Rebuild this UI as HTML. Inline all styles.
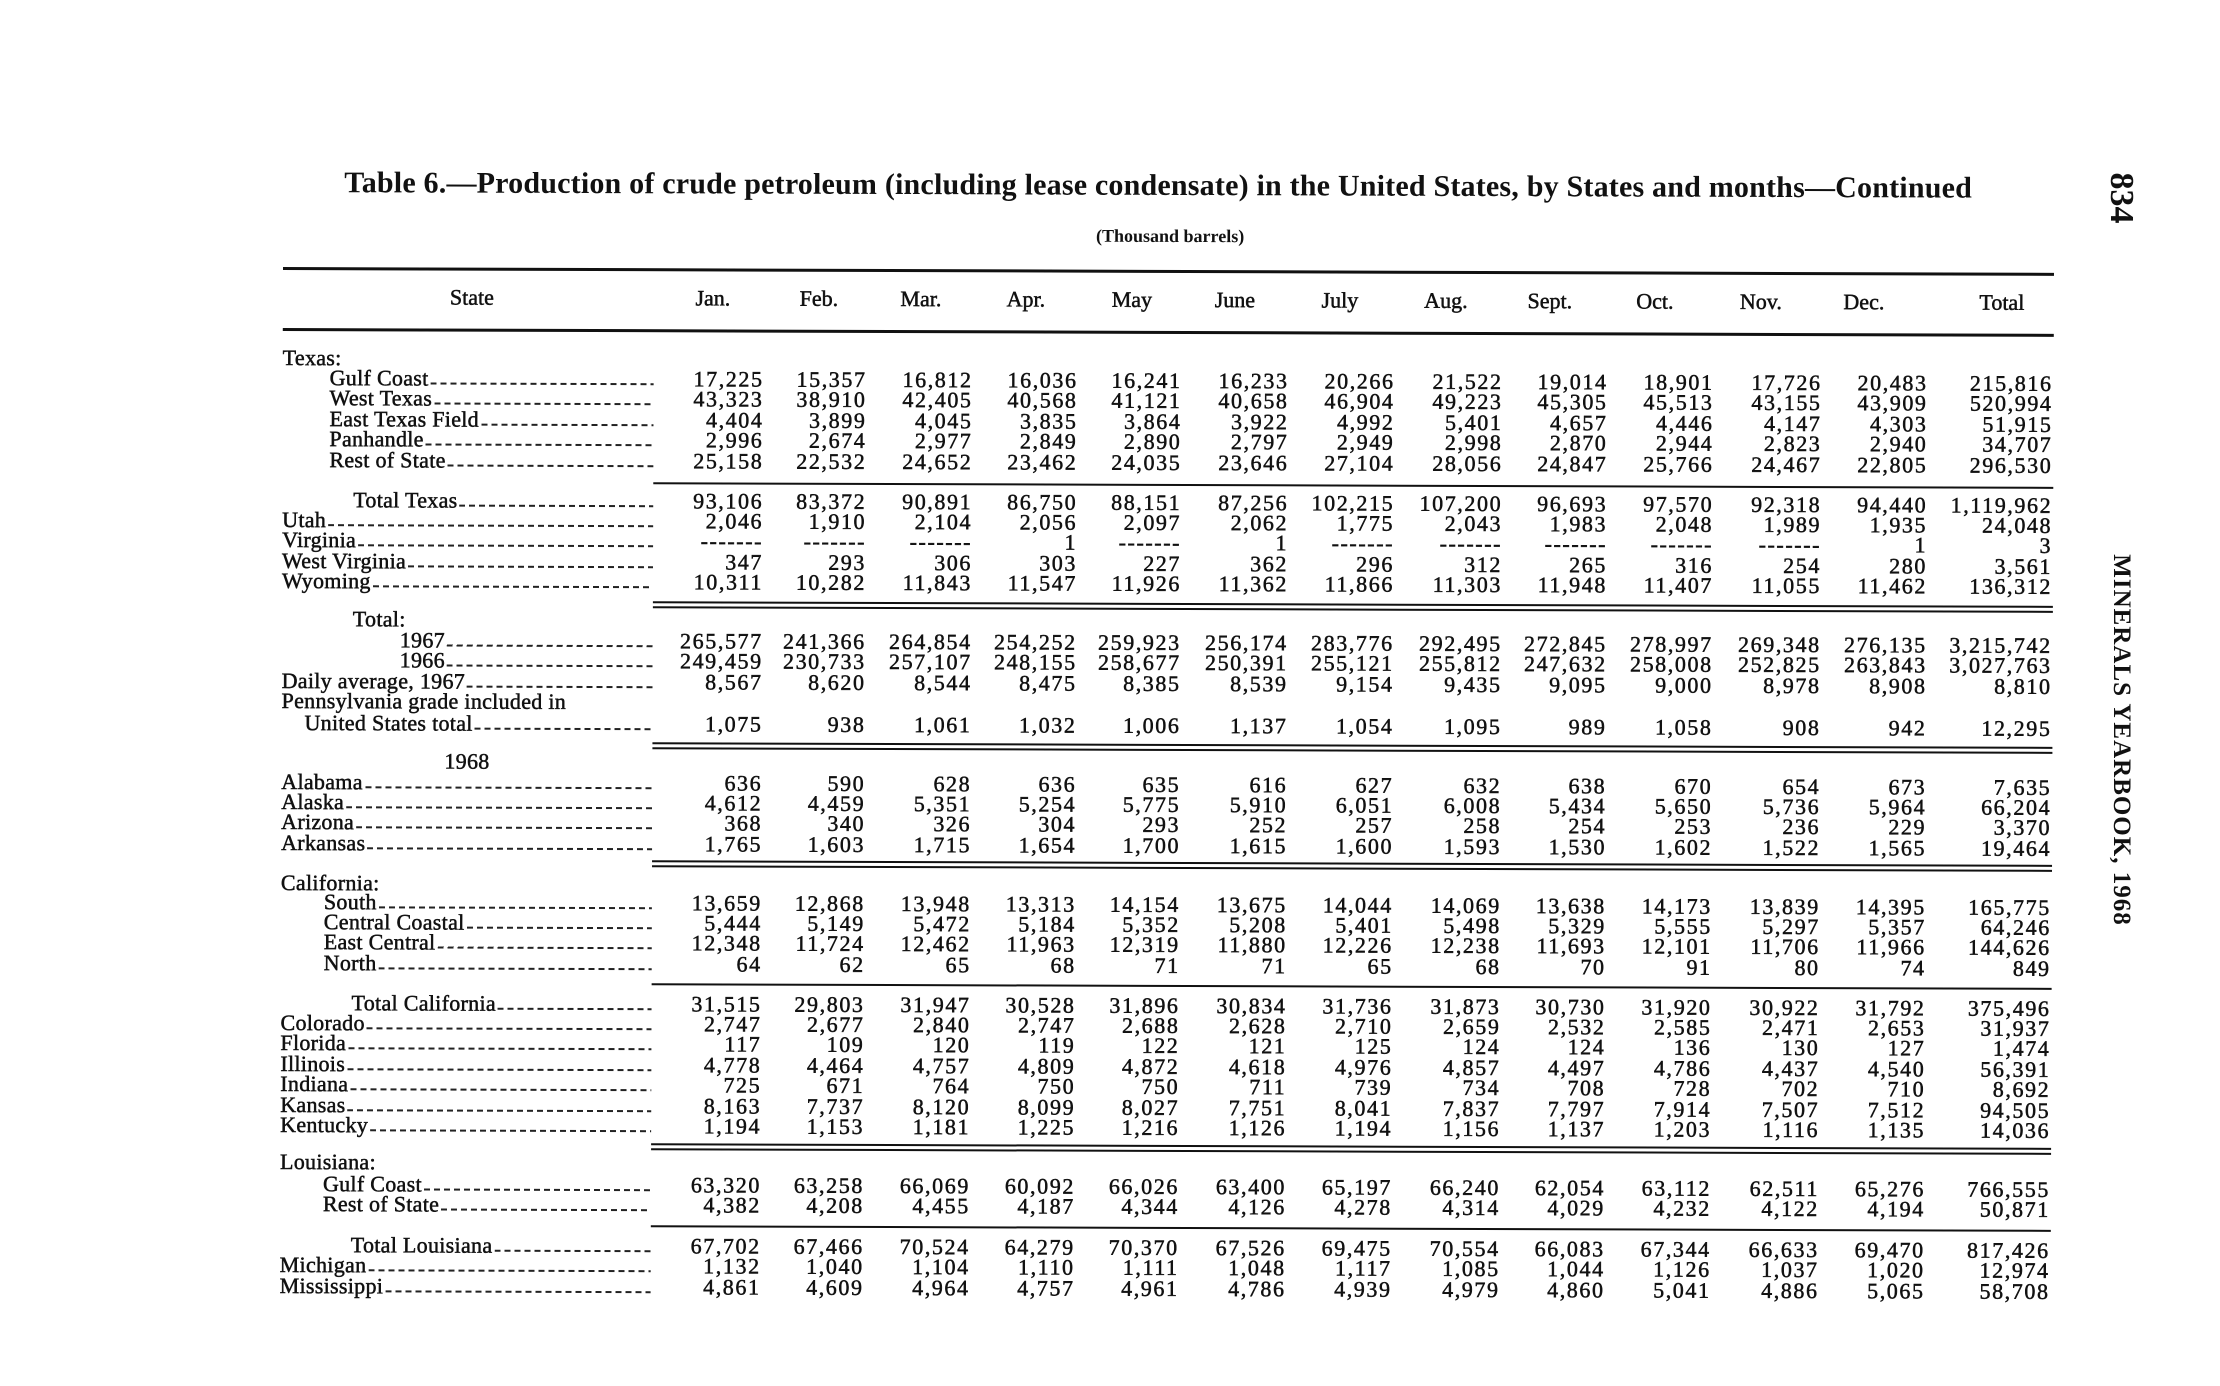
<!DOCTYPE html>
<html><head><meta charset="utf-8">
<style>
html,body{margin:0;padding:0;background:#fff;}
body{width:2220px;height:1380px;overflow:hidden;position:relative;font-family:"Liberation Serif",serif;color:#111;}
#g{position:absolute;left:0;top:0;width:2220px;height:1380px;transform:rotate(0.19deg);transform-origin:283px 268px;}
.t{position:absolute;white-space:nowrap;font-weight:bold;}
.r{position:absolute;left:0;width:2220px;height:24px;line-height:24px;font-size:22px;font-weight:normal;letter-spacing:1.6px;-webkit-text-stroke:0.5px #111;}
.r span{position:absolute;top:0;width:130px;text-align:right;white-space:nowrap;}
.r span.l{display:flex;text-align:left;width:auto;right:1566px;letter-spacing:0.3px;}
.r span.l::after{content:"";flex:1;height:2px;align-self:flex-end;margin:0 0 6px 2px;background:repeating-linear-gradient(90deg,#222 0 6px,transparent 6px 10px);}
.r span.h{text-align:left;width:auto;letter-spacing:0.3px;}
.r span:nth-child(2){left:634px}
.r span:nth-child(3){left:737px}
.r span:nth-child(4){left:843px}
.r span:nth-child(5){left:948px}
.r span:nth-child(6){left:1052px}
.r span:nth-child(7){left:1159px}
.r span:nth-child(8){left:1265px}
.r span:nth-child(9){left:1373px}
.r span:nth-child(10){left:1478px}
.r span:nth-child(11){left:1584px}
.r span:nth-child(12){left:1692px}
.r span:nth-child(13){left:1798px}
.r span:nth-child(14){left:1923px}
.hl{position:absolute;background:#111;}
.hd{position:absolute;top:284px;font-size:22px;transform:translateX(-50%);white-space:nowrap;-webkit-text-stroke:0.5px #111;}
</style></head><body>
<div id="g">
<div class="t" style="left:344px;top:166px;font-size:30px;letter-spacing:0.2px;">Table 6.—Production of crude petroleum (including lease condensate) in the United States, by States and months—Continued</div>
<div class="t" style="left:1170px;top:223px;font-size:18px;transform:translateX(-50%);">(Thousand barrels)</div>

<div class="hl" style="left:283px;top:267px;width:1771px;height:3px;"></div>
<div class="hd" style="left:472px">State</div>
<div class="hd" style="left:713px">Jan.</div>
<div class="hd" style="left:819px">Feb.</div>
<div class="hd" style="left:921px">Mar.</div>
<div class="hd" style="left:1026px">Apr.</div>
<div class="hd" style="left:1132px">May</div>
<div class="hd" style="left:1235px">June</div>
<div class="hd" style="left:1340px">July</div>
<div class="hd" style="left:1446px">Aug.</div>
<div class="hd" style="left:1550px">Sept.</div>
<div class="hd" style="left:1655px">Oct.</div>
<div class="hd" style="left:1761px">Nov.</div>
<div class="hd" style="left:1864px">Dec.</div>
<div class="hd" style="left:2002px">Total</div>
<div class="hl" style="left:283px;top:328px;width:1771px;height:3px;"></div>

<div class="hl" style="left:654px;top:481px;width:1400px;height:2px;"></div>
<div class="hl" style="left:654px;top:600px;width:1400px;height:2px;"></div>
<div class="hl" style="left:654px;top:605px;width:1400px;height:2px;"></div>
<div class="hl" style="left:654px;top:741px;width:1400px;height:2px;"></div>
<div class="hl" style="left:654px;top:746px;width:1400px;height:2px;"></div>
<div class="hl" style="left:654px;top:859px;width:1400px;height:2px;"></div>
<div class="hl" style="left:654px;top:864px;width:1400px;height:2px;"></div>
<div class="hl" style="left:654px;top:982px;width:1400px;height:2px;"></div>
<div class="hl" style="left:654px;top:1142px;width:1400px;height:2px;"></div>
<div class="hl" style="left:654px;top:1147px;width:1400px;height:2px;"></div>
<div class="hl" style="left:654px;top:1224px;width:1400px;height:2px;"></div>

<div class="r" style="top:346px"><span class="h" style="left:283px">Texas:</span></div>
<div class="r" style="top:366px"><span class="l" style="left:330px">Gulf Coast</span><span>17,225</span><span>15,357</span><span>16,812</span><span>16,036</span><span>16,241</span><span>16,233</span><span>20,266</span><span>21,522</span><span>19,014</span><span>18,901</span><span>17,726</span><span>20,483</span><span>215,816</span></div>
<div class="r" style="top:386px"><span class="l" style="left:330px">West Texas</span><span>43,323</span><span>38,910</span><span>42,405</span><span>40,568</span><span>41,121</span><span>40,658</span><span>46,904</span><span>49,223</span><span>45,305</span><span>45,513</span><span>43,155</span><span>43,909</span><span>520,994</span></div>
<div class="r" style="top:407px"><span class="l" style="left:330px">East Texas Field</span><span>4,404</span><span>3,899</span><span>4,045</span><span>3,835</span><span>3,864</span><span>3,922</span><span>4,992</span><span>5,401</span><span>4,657</span><span>4,446</span><span>4,147</span><span>4,303</span><span>51,915</span></div>
<div class="r" style="top:427px"><span class="l" style="left:330px">Panhandle</span><span>2,996</span><span>2,674</span><span>2,977</span><span>2,849</span><span>2,890</span><span>2,797</span><span>2,949</span><span>2,998</span><span>2,870</span><span>2,944</span><span>2,823</span><span>2,940</span><span>34,707</span></div>
<div class="r" style="top:448px"><span class="l" style="left:330px">Rest of State</span><span>25,158</span><span>22,532</span><span>24,652</span><span>23,462</span><span>24,035</span><span>23,646</span><span>27,104</span><span>28,056</span><span>24,847</span><span>25,766</span><span>24,467</span><span>22,805</span><span>296,530</span></div>
<div class="r" style="top:488px"><span class="l" style="left:354px">Total Texas</span><span>93,106</span><span>83,372</span><span>90,891</span><span>86,750</span><span>88,151</span><span>87,256</span><span>102,215</span><span>107,200</span><span>96,693</span><span>97,570</span><span>92,318</span><span>94,440</span><span>1,119,962</span></div>
<div class="r" style="top:508px"><span class="l" style="left:283px">Utah</span><span>2,046</span><span>1,910</span><span>2,104</span><span>2,056</span><span>2,097</span><span>2,062</span><span>1,775</span><span>2,043</span><span>1,983</span><span>2,048</span><span>1,989</span><span>1,935</span><span>24,048</span></div>
<div class="r" style="top:528px"><span class="l" style="left:283px">Virginia</span><span>-------</span><span>-------</span><span>-------</span><span>1</span><span>-------</span><span>1</span><span>-------</span><span>-------</span><span>-------</span><span>-------</span><span>-------</span><span>1</span><span>3</span></div>
<div class="r" style="top:549px"><span class="l" style="left:283px">West Virginia</span><span>347</span><span>293</span><span>306</span><span>303</span><span>227</span><span>362</span><span>296</span><span>312</span><span>265</span><span>316</span><span>254</span><span>280</span><span>3,561</span></div>
<div class="r" style="top:569px"><span class="l" style="left:283px">Wyoming</span><span>10,311</span><span>10,282</span><span>11,843</span><span>11,547</span><span>11,926</span><span>11,362</span><span>11,866</span><span>11,303</span><span>11,948</span><span>11,407</span><span>11,055</span><span>11,462</span><span>136,312</span></div>
<div class="r" style="top:607px"><span class="h" style="left:354px">Total:</span></div>
<div class="r" style="top:628px"><span class="l" style="left:401px">1967</span><span>265,577</span><span>241,366</span><span>264,854</span><span>254,252</span><span>259,923</span><span>256,174</span><span>283,776</span><span>292,495</span><span>272,845</span><span>278,997</span><span>269,348</span><span>276,135</span><span>3,215,742</span></div>
<div class="r" style="top:648px"><span class="l" style="left:401px">1966</span><span>249,459</span><span>230,733</span><span>257,107</span><span>248,155</span><span>258,677</span><span>250,391</span><span>255,121</span><span>255,812</span><span>247,632</span><span>258,008</span><span>252,825</span><span>263,843</span><span>3,027,763</span></div>
<div class="r" style="top:669px"><span class="l" style="left:283px">Daily average, 1967</span><span>8,567</span><span>8,620</span><span>8,544</span><span>8,475</span><span>8,385</span><span>8,539</span><span>9,154</span><span>9,435</span><span>9,095</span><span>9,000</span><span>8,978</span><span>8,908</span><span>8,810</span></div>
<div class="r" style="top:689px"><span class="h" style="left:283px">Pennsylvania grade included in</span></div>
<div class="r" style="top:711px"><span class="l" style="left:306px">United States total</span><span>1,075</span><span>938</span><span>1,061</span><span>1,032</span><span>1,006</span><span>1,137</span><span>1,054</span><span>1,095</span><span>989</span><span>1,058</span><span>908</span><span>942</span><span>12,295</span></div>
<div class="r" style="top:749px"><span class="h" style="left:446px">1968</span></div>
<div class="r" style="top:770px"><span class="l" style="left:283px">Alabama</span><span>636</span><span>590</span><span>628</span><span>636</span><span>635</span><span>616</span><span>627</span><span>632</span><span>638</span><span>670</span><span>654</span><span>673</span><span>7,635</span></div>
<div class="r" style="top:790px"><span class="l" style="left:283px">Alaska</span><span>4,612</span><span>4,459</span><span>5,351</span><span>5,254</span><span>5,775</span><span>5,910</span><span>6,051</span><span>6,008</span><span>5,434</span><span>5,650</span><span>5,736</span><span>5,964</span><span>66,204</span></div>
<div class="r" style="top:810px"><span class="l" style="left:283px">Arizona</span><span>368</span><span>340</span><span>326</span><span>304</span><span>293</span><span>252</span><span>257</span><span>258</span><span>254</span><span>253</span><span>236</span><span>229</span><span>3,370</span></div>
<div class="r" style="top:831px"><span class="l" style="left:283px">Arkansas</span><span>1,765</span><span>1,603</span><span>1,715</span><span>1,654</span><span>1,700</span><span>1,615</span><span>1,600</span><span>1,593</span><span>1,530</span><span>1,602</span><span>1,522</span><span>1,565</span><span>19,464</span></div>
<div class="r" style="top:871px"><span class="h" style="left:283px">California:</span></div>
<div class="r" style="top:890px"><span class="l" style="left:326px">South</span><span>13,659</span><span>12,868</span><span>13,948</span><span>13,313</span><span>14,154</span><span>13,675</span><span>14,044</span><span>14,069</span><span>13,638</span><span>14,173</span><span>13,839</span><span>14,395</span><span>165,775</span></div>
<div class="r" style="top:910px"><span class="l" style="left:326px">Central Coastal</span><span>5,444</span><span>5,149</span><span>5,472</span><span>5,184</span><span>5,352</span><span>5,208</span><span>5,401</span><span>5,498</span><span>5,329</span><span>5,555</span><span>5,297</span><span>5,357</span><span>64,246</span></div>
<div class="r" style="top:930px"><span class="l" style="left:326px">East Central</span><span>12,348</span><span>11,724</span><span>12,462</span><span>11,963</span><span>12,319</span><span>11,880</span><span>12,226</span><span>12,238</span><span>11,693</span><span>12,101</span><span>11,706</span><span>11,966</span><span>144,626</span></div>
<div class="r" style="top:951px"><span class="l" style="left:326px">North</span><span>64</span><span>62</span><span>65</span><span>68</span><span>71</span><span>71</span><span>65</span><span>68</span><span>70</span><span>91</span><span>80</span><span>74</span><span>849</span></div>
<div class="r" style="top:991px"><span class="l" style="left:354px">Total California</span><span>31,515</span><span>29,803</span><span>31,947</span><span>30,528</span><span>31,896</span><span>30,834</span><span>31,736</span><span>31,873</span><span>30,730</span><span>31,920</span><span>30,922</span><span>31,792</span><span>375,496</span></div>
<div class="r" style="top:1011px"><span class="l" style="left:283px">Colorado</span><span>2,747</span><span>2,677</span><span>2,840</span><span>2,747</span><span>2,688</span><span>2,628</span><span>2,710</span><span>2,659</span><span>2,532</span><span>2,585</span><span>2,471</span><span>2,653</span><span>31,937</span></div>
<div class="r" style="top:1031px"><span class="l" style="left:283px">Florida</span><span>117</span><span>109</span><span>120</span><span>119</span><span>122</span><span>121</span><span>125</span><span>124</span><span>124</span><span>136</span><span>130</span><span>127</span><span>1,474</span></div>
<div class="r" style="top:1052px"><span class="l" style="left:283px">Illinois</span><span>4,778</span><span>4,464</span><span>4,757</span><span>4,809</span><span>4,872</span><span>4,618</span><span>4,976</span><span>4,857</span><span>4,497</span><span>4,786</span><span>4,437</span><span>4,540</span><span>56,391</span></div>
<div class="r" style="top:1072px"><span class="l" style="left:283px">Indiana</span><span>725</span><span>671</span><span>764</span><span>750</span><span>750</span><span>711</span><span>739</span><span>734</span><span>708</span><span>728</span><span>702</span><span>710</span><span>8,692</span></div>
<div class="r" style="top:1093px"><span class="l" style="left:283px">Kansas</span><span>8,163</span><span>7,737</span><span>8,120</span><span>8,099</span><span>8,027</span><span>7,751</span><span>8,041</span><span>7,837</span><span>7,797</span><span>7,914</span><span>7,507</span><span>7,512</span><span>94,505</span></div>
<div class="r" style="top:1113px"><span class="l" style="left:283px">Kentucky</span><span>1,194</span><span>1,153</span><span>1,181</span><span>1,225</span><span>1,216</span><span>1,126</span><span>1,194</span><span>1,156</span><span>1,137</span><span>1,203</span><span>1,116</span><span>1,135</span><span>14,036</span></div>
<div class="r" style="top:1150px"><span class="h" style="left:283px">Louisiana:</span></div>
<div class="r" style="top:1172px"><span class="l" style="left:326px">Gulf Coast</span><span>63,320</span><span>63,258</span><span>66,069</span><span>60,092</span><span>66,026</span><span>63,400</span><span>65,197</span><span>66,240</span><span>62,054</span><span>63,112</span><span>62,511</span><span>65,276</span><span>766,555</span></div>
<div class="r" style="top:1192px"><span class="l" style="left:326px">Rest of State</span><span>4,382</span><span>4,208</span><span>4,455</span><span>4,187</span><span>4,344</span><span>4,126</span><span>4,278</span><span>4,314</span><span>4,029</span><span>4,232</span><span>4,122</span><span>4,194</span><span>50,871</span></div>
<div class="r" style="top:1233px"><span class="l" style="left:354px">Total Louisiana</span><span>67,702</span><span>67,466</span><span>70,524</span><span>64,279</span><span>70,370</span><span>67,526</span><span>69,475</span><span>70,554</span><span>66,083</span><span>67,344</span><span>66,633</span><span>69,470</span><span>817,426</span></div>
<div class="r" style="top:1253px"><span class="l" style="left:283px">Michigan</span><span>1,132</span><span>1,040</span><span>1,104</span><span>1,110</span><span>1,111</span><span>1,048</span><span>1,117</span><span>1,085</span><span>1,044</span><span>1,126</span><span>1,037</span><span>1,020</span><span>12,974</span></div>
<div class="r" style="top:1274px"><span class="l" style="left:283px">Mississippi</span><span>4,861</span><span>4,609</span><span>4,964</span><span>4,757</span><span>4,961</span><span>4,786</span><span>4,939</span><span>4,979</span><span>4,860</span><span>5,041</span><span>4,886</span><span>5,065</span><span>58,708</span></div>
</div>

<div class="t" style="left:2121px;top:198px;font-size:34px;transform:translate(-50%,-50%) rotate(90deg);">834</div>
<div class="t" style="left:2121px;top:740px;font-size:25px;letter-spacing:1px;transform:translate(-50%,-50%) rotate(90deg);">MINERALS YEARBOOK, 1968</div>
</body></html>
